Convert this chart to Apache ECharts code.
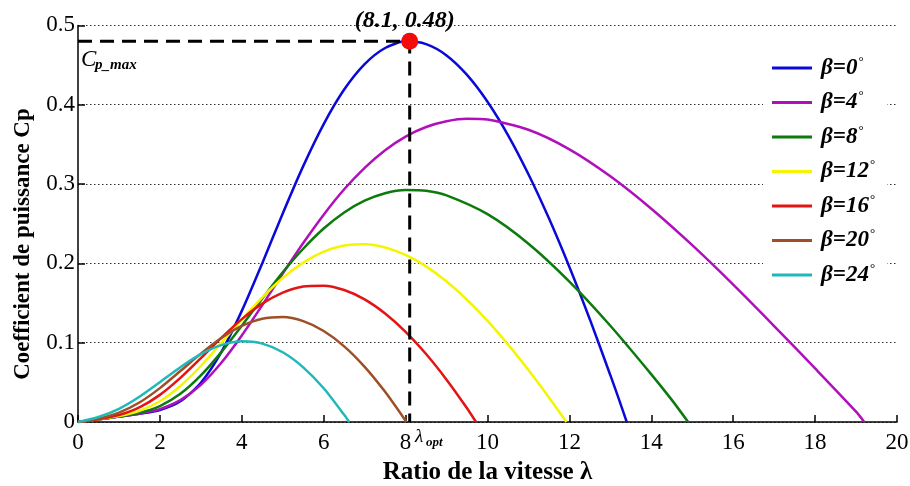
<!DOCTYPE html>
<html>
<head>
<meta charset="utf-8">
<script src="https://cdn.jsdelivr.net/npm/echarts@6/dist/echarts.min.js"></script>
<style>
  html, body { margin: 0; padding: 0; background: #fff; }
  #chart { width: 910px; height: 486px; }
</style>
</head>
<body>
<div id="chart"></div>
<script>
// Power coefficient Cp versus tip-speed ratio λ, one curve per pitch angle β
const xTicks = [0, 2, 4, 6, 8, 10, 12, 14, 16, 18, 20];
const yTicks = [0, 0.1, 0.2, 0.3, 0.4, 0.5];

const pitchNames = ['β=0°', 'β=4°', 'β=8°', 'β=12°', 'β=16°', 'β=20°', 'β=24°'];
const pitchColors = ['#0a0ad8', '#b010bc', '#0d7a0d', '#f5f500', '#e31414', '#9e4f26', '#20b8b8'];

const cpBeta0 = [[0,0],[0.5,0.0034],[1,0.0068],[1.5,0.0103],[2,0.0151],[2.5,0.0261],[3,0.0495],[3.5,0.0882],[4,0.1401],[4.5,0.2002],[5,0.2629],[5.5,0.3226],[6,0.3756],[6.5,0.4191],[7,0.4512],[7.5,0.4715],[8,0.4799],[8.5,0.4764],[9,0.4622],[9.5,0.4376],[10,0.4038],[10.5,0.3618],[11,0.3124],[11.5,0.2568],[12,0.1955],[12.5,0.1293],[13,0.0590],[13.2,0.0300],[13.4,0]];
const cpBeta4 = [[0,0],[0.5,0.0034],[1,0.0068],[1.5,0.0105],[2,0.0163],[2.5,0.0275],[3,0.0469],[3.5,0.0747],[4,0.1091],[4.5,0.1473],[5,0.1870],[5.5,0.2256],[6,0.2614],[6.5,0.2934],[7,0.3205],[7.5,0.3427],[8,0.3598],[8.5,0.3719],[9,0.3792],[9.5,0.3823],[10,0.3813],[11,0.3684],[12,0.3438],[13,0.3098],[14,0.2689],[15,0.2229],[16,0.1732],[17,0.1210],[18,0.0675],[19,0.0130],[19.2,0]];
const cpBeta8 = [[0,0],[0.5,0.0034],[1,0.0069],[1.5,0.0115],[2,0.0201],[2.5,0.0355],[3,0.0587],[3.5,0.0881],[4,0.1214],[4.5,0.1557],[5,0.1888],[5.5,0.2184],[6,0.2439],[6.5,0.2642],[7,0.2790],[7.5,0.2884],[8,0.2924],[8.5,0.2915],[9,0.2857],[10,0.2620],[11,0.2248],[12,0.1770],[13,0.1213],[14,0.0601],[14.5,0.0279],[14.9,0]];
const cpBeta12 = [[0,0],[0.5,0.0035],[1,0.0074],[1.5,0.0140],[2,0.0262],[2.5,0.0454],[3,0.0706],[3.5,0.0995],[4,0.1291],[4.5,0.1571],[5,0.1815],[5.5,0.2009],[6,0.2147],[6.5,0.2224],[7,0.2242],[7.5,0.2201],[8,0.2106],[8.5,0.1962],[9,0.1772],[9.5,0.1541],[10,0.1276],[10.5,0.0979],[11,0.0655],[11.5,0.0310],[11.93,0]];
const cpBeta16 = [[0,0],[0.5,0.0036],[1,0.0088],[1.5,0.0184],[2,0.0342],[2.5,0.0556],[3,0.0805],[3.5,0.1061],[4,0.1297],[4.5,0.1492],[5,0.1631],[5.5,0.1709],[6,0.1719],[6.5,0.1664],[7,0.1546],[7.5,0.1368],[8,0.1137],[8.5,0.0857],[9,0.0534],[9.5,0.0174],[9.72,0]];
const cpBeta20 = [[0,0],[0.5,0.0044],[1,0.0119],[1.5,0.0246],[2,0.0427],[2.5,0.0642],[3,0.0862],[3.5,0.1059],[4,0.1211],[4.5,0.1302],[5,0.1323],[5.5,0.1271],[6,0.1147],[6.5,0.0954],[7,0.0696],[7.5,0.0380],[8.02,0]];
const cpBeta24 = [[0,0],[0.5,0.0063],[1,0.0166],[1.5,0.0318],[2,0.0502],[2.5,0.0691],[3,0.0855],[3.5,0.0969],[4,0.1017],[4.5,0.0988],[5,0.0879],[5.5,0.0689],[6,0.0425],[6.5,0.0090],[6.62,0]];

// Optimum operating point (λ_opt, Cp_max)
const optPoint = [8.1, 0.48];

const curves = [cpBeta0, cpBeta4, cpBeta8, cpBeta12, cpBeta16, cpBeta20, cpBeta24];
const SERIF = "'Liberation Serif', 'Times New Roman', serif";

const chart = echarts.init(document.getElementById('chart'));

const curveSeries = curves.map((data, i) => ({
  name: pitchNames[i],
  type: 'line',
  data: data,
  smooth: 0.25,
  symbol: 'none',
  clip: true,
  z: 3,
  lineStyle: { color: pitchColors[i], width: 2.5 },
  itemStyle: { color: pitchColors[i] }
}));

const guideSeries = {
  name: 'guide',
  type: 'line',
  data: [[xTicks[0], optPoint[1]], optPoint, [optPoint[0], yTicks[0]]],
  symbol: 'none',
  silent: true,
  z: 4,
  lineStyle: { color: '#000', width: 3, type: [14, 8] }
};

const optSeries = {
  name: 'opt',
  type: 'scatter',
  data: [optPoint],
  symbolSize: 17,
  z: 6,
  itemStyle: { color: '#f50a0a', opacity: 1 },
  label: {
    show: true,
    position: 'top',
    distance: 0,
    offset: [-5, 0],
    formatter: p => '(' + p.value[0] + ', ' + p.value[1] + ')',
    fontFamily: SERIF,
    fontStyle: 'italic',
    fontWeight: 'bold',
    fontSize: 24,
    color: '#000',
    opacity: 1
  }
};

chart.setOption({
  backgroundColor: '#fff',
  animation: false,
  grid: { left: 78, right: 13, top: 25.4, bottom: 64, containLabel: false, outerBoundsMode: 'none' },
  xAxis: {
    type: 'value',
    min: xTicks[0],
    max: xTicks[xTicks.length - 1],
    interval: 2,
    name: 'Ratio de la vitesse λ',
    nameLocation: 'middle',
    nameGap: 38,
    nameTextStyle: { fontFamily: SERIF, fontWeight: 'bold', fontSize: 25, color: '#000' },
    axisLine: { show: true, lineStyle: { color: '#000', width: 1.5 } },
    axisTick: { show: true, inside: true, length: 7, lineStyle: { color: '#000', width: 1.5 } },
    axisLabel: { fontFamily: SERIF, fontSize: 23, color: '#000', margin: 9 },
    splitLine: { show: false }
  },
  yAxis: {
    type: 'value',
    min: yTicks[0],
    max: yTicks[yTicks.length - 1],
    interval: 0.1,
    axisLine: { show: true, lineStyle: { color: '#000', width: 1.5 } },
    axisTick: { show: true, inside: true, length: 7, lineStyle: { color: '#000', width: 1.5 } },
    axisLabel: { fontFamily: SERIF, fontSize: 23, color: '#000', margin: 3 },
    splitLine: { show: true, lineStyle: { color: '#333', width: 1, type: [1.5, 2.5] } }
  },
  legend: {
    data: pitchNames,
    orient: 'vertical',
    left: 763,
    top: 46,
    padding: [9, 12, 9, 9],
    backgroundColor: '#fff',
    icon: 'rect',
    itemWidth: 40,
    itemHeight: 3,
    itemGap: 10,
    selectedMode: false,
    formatter: name => '{t|' + name.replace('°', '') + '}{d|°}',
    textStyle: {
      color: '#000',
      rich: {
        t: { fontFamily: SERIF, fontStyle: 'italic', fontWeight: 'bold', fontSize: 23, lineHeight: 26, color: '#000', padding: [0, 0, 0, 4] },
        d: { fontFamily: SERIF, fontSize: 13, lineHeight: 26, verticalAlign: 'top', color: '#000', padding: [0, 0, 10, 1] }
      }
    }
  },
  graphic: [
    { type: 'text', x: 23, y: 244, rotation: Math.PI / 2, z: 10,
      style: { text: 'Coefficient de puissance Cp', fontFamily: SERIF, fontWeight: 'bold', fontSize: 23, fill: '#000', align: 'center', verticalAlign: 'middle' } },
    { type: 'text', left: 81, top: 48, z: 10,
      style: { text: 'C', fontFamily: SERIF, fontStyle: 'italic', fontSize: 23, fill: '#000' } },
    { type: 'text', left: 95, top: 58, z: 10,
      style: { text: 'p_max', fontFamily: SERIF, fontStyle: 'italic', fontWeight: 'bold', fontSize: 15, fill: '#000' } },
    { type: 'text', left: 415, top: 427, z: 10,
      style: { text: 'λ', fontFamily: SERIF, fontStyle: 'italic', fontSize: 19, fill: '#000' } },
    { type: 'text', left: 426, top: 436, z: 10,
      style: { text: 'opt', fontFamily: SERIF, fontStyle: 'italic', fontWeight: 'bold', fontSize: 13, fill: '#000' } }
  ],
  series: curveSeries.concat([guideSeries, optSeries])
});
</script>
</body>
</html>
